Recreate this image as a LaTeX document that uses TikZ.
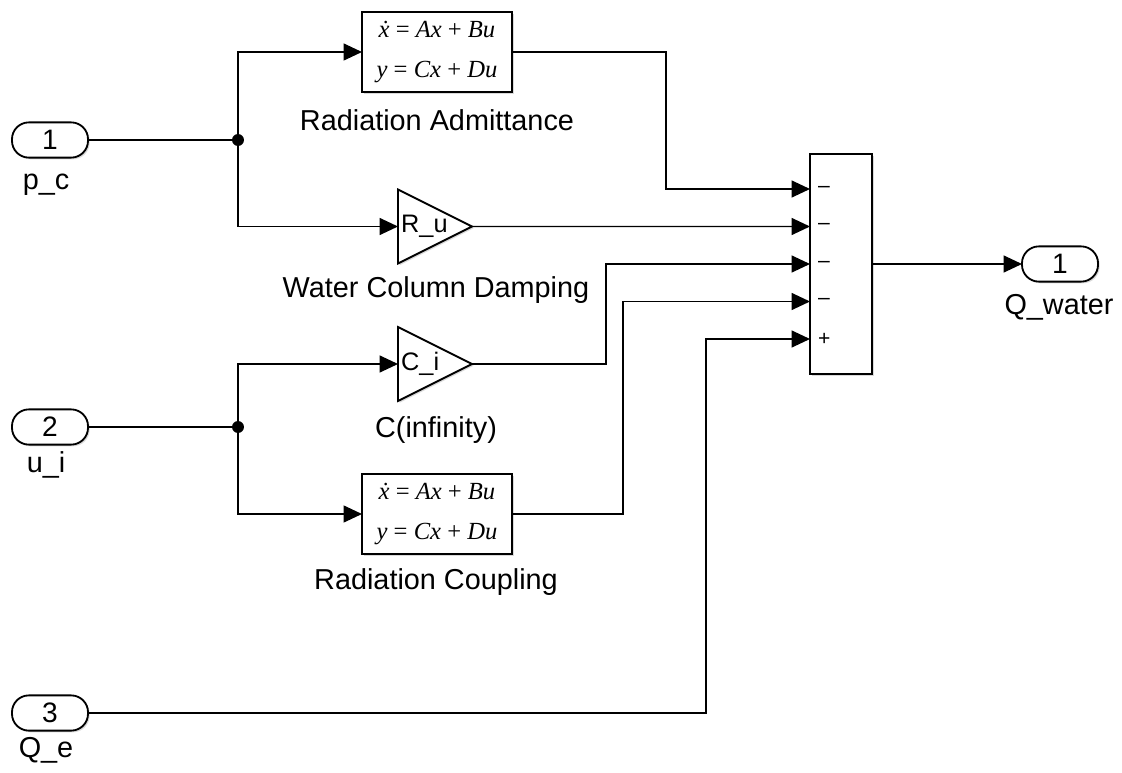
\documentclass[tikz,border=0pt]{standalone}
\usepackage{fontspec}
\setmainfont{Liberation Sans}
\newfontfamily\eqfont{Liberation Serif}
\usetikzlibrary{arrows.meta,shapes.geometric,shadows}

\begin{document}
\begin{tikzpicture}[
        x=0.025cm, y=-0.025cm,
        every node/.style={inner sep=0pt, outer sep=0pt},
        blk/.style={draw, line width=1.3pt, fill=white,
            drop shadow={shadow xshift=1.2pt, shadow yshift=-1.2pt, opacity=0.3}},
        port/.style={blk, rounded corners=0.42cm, minimum width=1.9cm, minimum height=0.88cm,
            font=\fontsize{20}{20}\selectfont},
        sspace/.style={blk, minimum width=3.75cm, minimum height=2cm, align=center,
            font=\eqfont\itshape\fontsize{17.5}{22}\selectfont},
        gain/.style={blk, isosceles triangle, isosceles triangle stretches, shape border rotate=0,
            minimum width=1.85cm, minimum height=1.85cm, anchor=west},
        sumblk/.style={blk, minimum width=1.55cm, minimum height=5.5cm},
        lbl/.style={font=\fontsize{20.5}{24}\selectfont},
        gtxt/.style={anchor=west, font=\fontsize{18}{18}\selectfont},
        sgn/.style={anchor=west, font=\fontsize{15}{15}\selectfont},
        dot/.style={circle, fill, minimum size=8.5pt},
        wire/.style={line width=1pt},
        sig/.style={wire, -{Triangle[length=13pt,width=12pt]}}
    ]
    \useasboundingbox (0,0) rectangle (1122,773);

    \node[port] (in1) at (50,140) {1};
    \node[lbl] (in1lbl) at (46,185) {p\_c};
    \node[port] (in2) at (50,427) {2};
    \node[lbl] (in2lbl) at (46,465) {u\_i};
    \node[port] (in3) at (50,713) {3};
    \node[lbl] (in3lbl) at (46,750) {Q\_e};

    \node[dot] (b1) at (238,140) {};
    \node[dot] (b2) at (238,427) {};

    \node[sspace] (adm) at (437,52) {\.x \textup{=} Ax \textup{+} Bu\\[7pt]y \textup{=} Cx \textup{+} Du};
    \node[lbl] (admlbl) at (437,120) {Radiation Admittance};
    \node[gain] (damp) at (398,226.5) {};
    \node[gtxt] (damptxt) at ([xshift=0.08cm]damp.west) {R\_u};
    \node[lbl] (damplbl) at (436,290) {Water Column Damping};
    \node[gain] (cinf) at (398,364) {};
    \node[gtxt] (cinftxt) at ([xshift=0.08cm]cinf.west) {C\_i};
    \node[lbl] (cinflbl) at (436,430) {C(infinity)};
    \node[sspace] (coup) at (437,514) {\.x \textup{=} Ax \textup{+} Bu\\[7pt]y \textup{=} Cx \textup{+} Du};
    \node[lbl] (couplbl) at (436,582) {Radiation Coupling};

    \node[sumblk] (sum) at (841,264) {};
    \path (sum.west) ++(0,-75) coordinate (s1)
          (sum.west) ++(0,-37.5) coordinate (s2)
          (sum.west) coordinate (s3)
          (sum.west) ++(0,37.5) coordinate (s4)
          (sum.west) ++(0,75) coordinate (s5);
    \node[sgn] (m1) at ([xshift=0.2cm]s1) {–};
    \node[sgn] (m2) at ([xshift=0.2cm]s2) {–};
    \node[sgn] (m3) at ([xshift=0.2cm]s3) {–};
    \node[sgn] (m4) at ([xshift=0.2cm]s4) {–};
    \node[sgn] (p5) at ([xshift=0.2cm]s5) {+};

    \node[port] (out1) at (1060,264) {1};
    \node[lbl] (out1lbl) at (1059,307) {Q\_water};

    \draw[wire] (in1.east) -- (b1);
    \draw[sig] (b1) |- (adm.west);
    \draw[sig] (b1) |- (damp.west);
    \draw[wire] (in2.east) -- (b2);
    \draw[sig] (b2) |- (cinf.west);
    \draw[sig] (b2) |- (coup.west);

    \draw[sig] (adm.east) -- ++(154,0) |- (s1);
    \draw[sig] (damp.east) -- (s2);
    \draw[sig] (cinf.east) -- ++(134,0) |- (s3);
    \draw[sig] (coup.east) -- ++(111,0) |- (s4);
    \draw[sig] (in3.east) -- ++(618,0) |- (s5);
    \draw[sig] (sum.east) -- (out1.west);

\end{tikzpicture}
\end{document}
